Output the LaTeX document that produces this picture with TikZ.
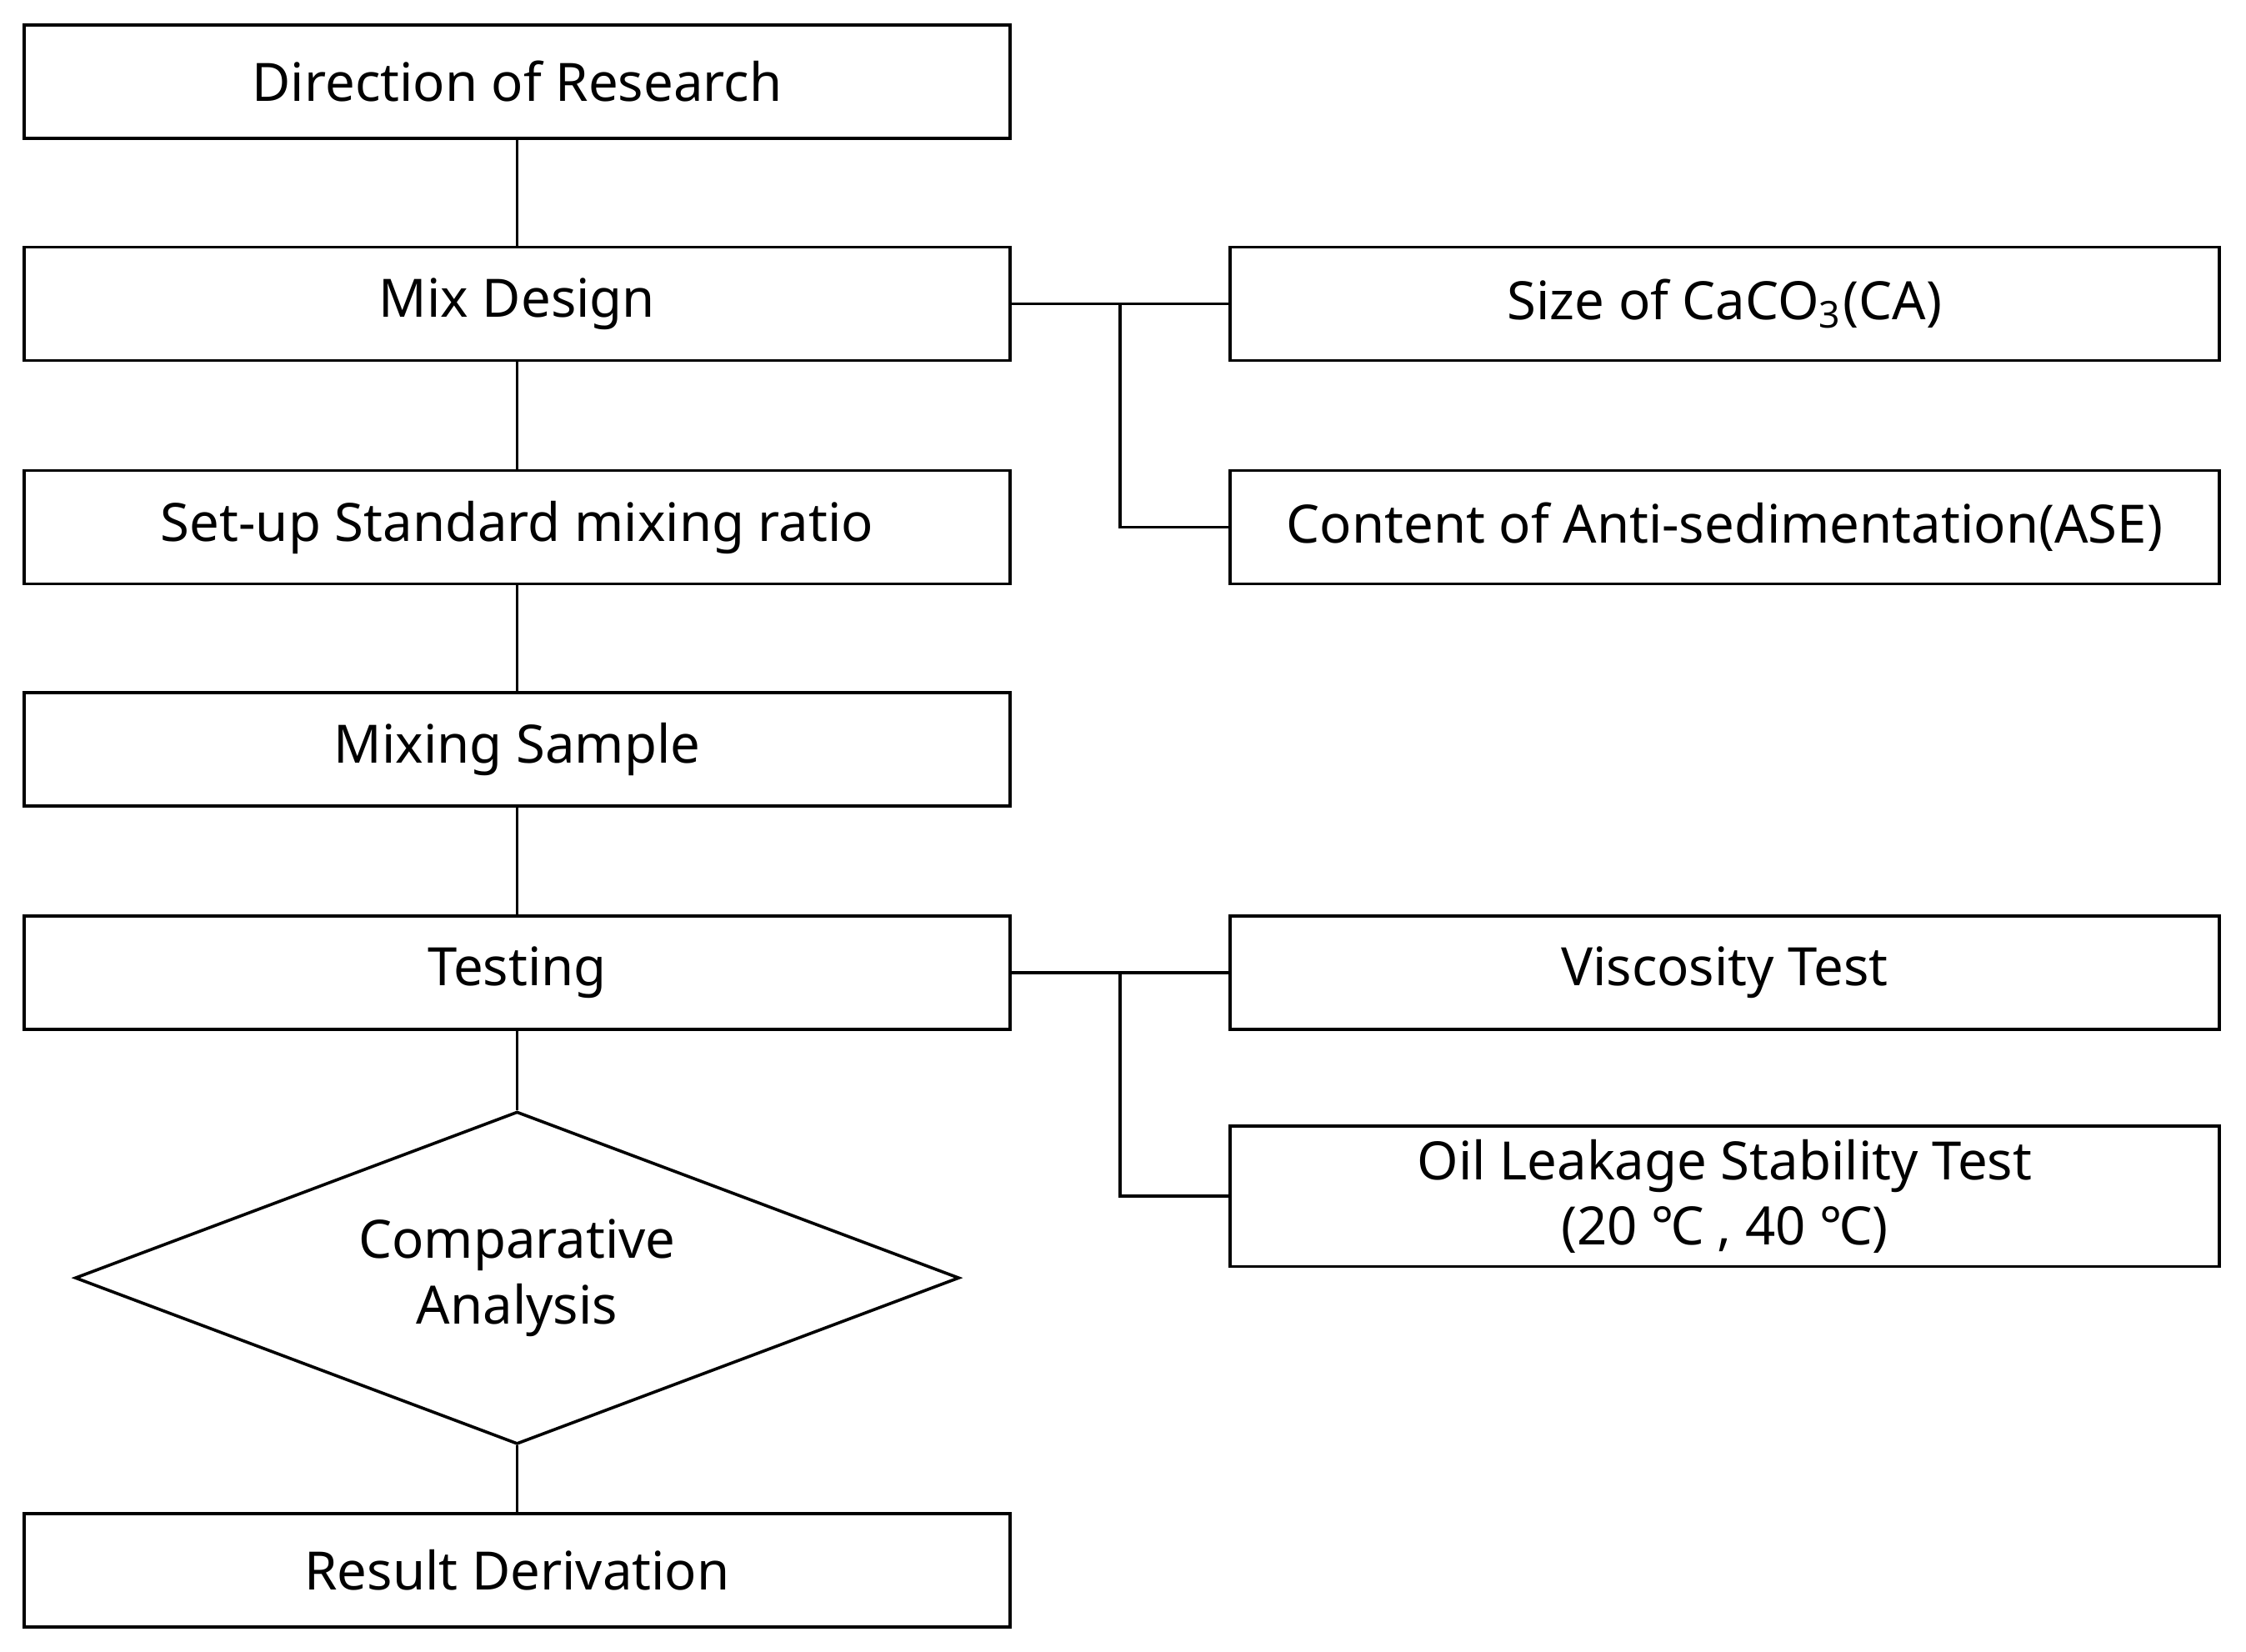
\documentclass[tikz,border=0pt]{standalone}
\usepackage{fontspec}
\setmainfont{Noto Sans}
\usetikzlibrary{shapes.geometric}
\tikzset{
  stepbox/.style={draw, line width=0.6pt, minimum width=6.88cm, minimum height=0.79cm, inner sep=0pt, font=\fontsize{10.5}{13}\selectfont, align=center},
  sidebox/.style={stepbox, minimum width=6.9cm},
  link/.style={line width=0.6pt}
}
\begin{document}
\begin{tikzpicture}[x=0.01cm, y=-0.01cm]
  \useasboundingbox (0,0) rectangle (1568,1153);
  % main column
  \node[stepbox] (direction) at (361,57) {Direction of Research};
  \node[stepbox] (mix) at (361,212) {Mix Design};
  \node[stepbox] (ratio) at (361,368) {Set-up Standard mixing ratio};
  \node[stepbox] (sample) at (361,523) {Mixing Sample};
  \node[stepbox] (testing) at (361,679) {Testing};
  \node[draw, line width=0.6pt, diamond, aspect=2.66, minimum width=6.17cm, minimum height=2.32cm, inner sep=0pt, align=center, font=\fontsize{10.5}{13}\selectfont] (analysis) at (361,892) {Comparative\\Analysis};
  \node[stepbox] (result) at (361,1096) {Result Derivation};
  % side column
  \node[sidebox] (size) at (1204,212) {Size of CaCO\textsubscript{3}(CA)};
  \node[sidebox] (content) at (1204,368) {Content of Anti-sedimentation(ASE)};
  \node[sidebox] (viscosity) at (1204,679) {Viscosity Test};
  \node[sidebox, minimum height=0.98cm] (leakage) at (1204,835) {Oil Leakage Stability Test\\(20 ℃ , 40 ℃)};
  \coordinate (mixfork) at (782,212);
  \coordinate (testfork) at (782,679);
  % connectors
  \draw[link] (direction) -- (mix);
  \draw[link] (mix) -- (ratio);
  \draw[link] (ratio) -- (sample);
  \draw[link] (sample) -- (testing);
  \draw[link] (testing) -- (analysis);
  \draw[link] (analysis) -- (result);
  \draw[link] (mix.east) -- (size.west);
  \draw[link] (mixfork) |- (content.west);
  \draw[link] (testing.east) -- (viscosity.west);
  \draw[link] (testfork) |- (leakage.west);
\end{tikzpicture}
\end{document}
